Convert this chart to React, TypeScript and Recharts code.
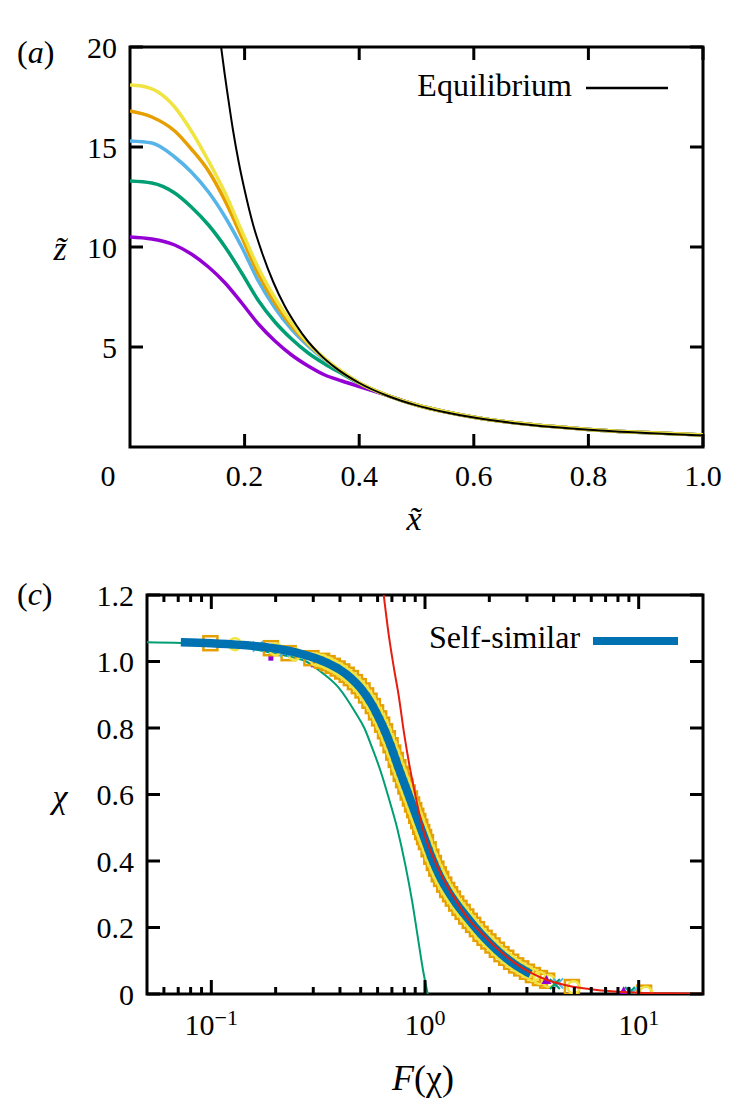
import { LineChart, ComposedChart, Line, Scatter, XAxis, YAxis, ReferenceArea } from 'recharts';

const SERIF = '"Liberation Serif", "DejaVu Serif", "Times New Roman", serif';

// ---------- panel (a) data ----------
const xTicksA = [0, 0.2, 0.4, 0.6, 0.8, 1.0];
const yTicksA = [5, 10, 15, 20];

const purpleA = [
  { x: 0, z: 10.5 }, { x: 0.038, z: 10.4 }, { x: 0.078, z: 10.1 }, { x: 0.107, z: 9.65 },
  { x: 0.137, z: 9.0 }, { x: 0.166, z: 8.2 }, { x: 0.195, z: 7.2 }, { x: 0.224, z: 6.15 },
  { x: 0.253, z: 5.3 }, { x: 0.282, z: 4.6 }, { x: 0.311, z: 4.05 }, { x: 0.34, z: 3.6 },
  { x: 0.37, z: 3.3 }, { x: 0.4, z: 3.02 }
];
const greenA = [
  { x: 0, z: 13.3 }, { x: 0.038, z: 13.2 }, { x: 0.078, z: 12.7 }, { x: 0.107, z: 12.0 },
  { x: 0.137, z: 11.1 }, { x: 0.166, z: 10.0 }, { x: 0.195, z: 8.7 }, { x: 0.224, z: 7.33 },
  { x: 0.253, z: 6.25 }, { x: 0.282, z: 5.4 }, { x: 0.311, z: 4.7 }, { x: 0.34, z: 4.15 },
  { x: 0.37, z: 3.66 }, { x: 0.4, z: 3.18 }
];
const blueA = [
  { x: 0, z: 15.3 }, { x: 0.038, z: 15.2 }, { x: 0.078, z: 14.5 }, { x: 0.107, z: 13.75 },
  { x: 0.137, z: 12.75 }, { x: 0.166, z: 11.5 }, { x: 0.195, z: 10.0 }, { x: 0.224, z: 8.3 },
  { x: 0.253, z: 6.95 }, { x: 0.282, z: 5.88 }, { x: 0.311, z: 5.05 }, { x: 0.34, z: 4.36 },
  { x: 0.37, z: 3.74 }, { x: 0.4, z: 3.2 }
];
const orangeA = [
  { x: 0, z: 16.8 }, { x: 0.038, z: 16.5 }, { x: 0.078, z: 15.8 }, { x: 0.107, z: 14.9 },
  { x: 0.137, z: 13.8 }, { x: 0.166, z: 12.3 }, { x: 0.195, z: 10.5 }, { x: 0.224, z: 8.65 },
  { x: 0.253, z: 7.2 }, { x: 0.282, z: 6.05 }, { x: 0.311, z: 5.15 }, { x: 0.34, z: 4.4 },
  { x: 0.37, z: 3.75 }, { x: 0.4, z: 3.2 }
];
const yellowA = [
  { x: 0, z: 18.1 }, { x: 0.02, z: 18.05 }, { x: 0.049, z: 17.75 }, { x: 0.078, z: 17.0 },
  { x: 0.107, z: 15.8 }, { x: 0.137, z: 14.3 }, { x: 0.166, z: 12.7 }, { x: 0.195, z: 10.8 },
  { x: 0.224, z: 8.95 }, { x: 0.253, z: 7.45 }, { x: 0.282, z: 6.2 }, { x: 0.311, z: 5.2 },
  { x: 0.34, z: 4.42 }, { x: 0.37, z: 3.76 }, { x: 0.4, z: 3.21 }
];
// all runs collapse onto the same tail
const tailA = [
  { x: 0.45, z: 2.57 }, { x: 0.5, z: 2.1 }, { x: 0.55, z: 1.76 }, { x: 0.6, z: 1.49 },
  { x: 0.7, z: 1.12 }, { x: 0.8, z: 0.88 }, { x: 0.9, z: 0.72 }, { x: 1.0, z: 0.6 }
];
const equilibriumA = [
  { x: 0.159, z: 20 }, { x: 0.165, z: 18.7 }, { x: 0.17, z: 17.7 }, { x: 0.18, z: 15.8 },
  { x: 0.19, z: 14.2 }, { x: 0.2, z: 12.85 }, { x: 0.215, z: 11.1 }, { x: 0.23, z: 9.75 },
  { x: 0.25, z: 8.25 }, { x: 0.27, z: 7.05 }, { x: 0.29, z: 6.1 }, { x: 0.31, z: 5.3 },
  { x: 0.33, z: 4.67 }, { x: 0.36, z: 3.93 }, { x: 0.4, z: 3.2 }, { x: 0.45, z: 2.55 },
  { x: 0.5, z: 2.08 }, { x: 0.55, z: 1.74 }, { x: 0.6, z: 1.47 }, { x: 0.7, z: 1.1 },
  { x: 0.8, z: 0.86 }, { x: 0.9, z: 0.7 }, { x: 1.0, z: 0.58 }
];

// ---------- panel (c) data ----------
const xTicksC = [0.1, 1, 10];
const xMinorC = [0.06, 0.07, 0.08, 0.09, 0.2, 0.3, 0.4, 0.5, 0.6, 0.7, 0.8, 0.9, 2, 3, 4, 5, 6, 7, 8, 9];
const yTicksC = [0, 0.2, 0.4, 0.6, 0.8, 1.0, 1.2];

const equilibriumC = [
  { F: 0.05, chi: 1.058 }, { F: 0.095, chi: 1.052 }, { F: 0.15, chi: 1.04 }, { F: 0.195, chi: 1.025 },
  { F: 0.236, chi: 1.014 }, { F: 0.278, chi: 1.0 }, { F: 0.332, chi: 0.965 }, { F: 0.396, chi: 0.92 },
  { F: 0.474, chi: 0.845 }, { F: 0.52, chi: 0.8 }, { F: 0.566, chi: 0.74 }, { F: 0.62, chi: 0.67 },
  { F: 0.676, chi: 0.59 }, { F: 0.74, chi: 0.5 }, { F: 0.808, chi: 0.39 }, { F: 0.87, chi: 0.28 },
  { F: 0.931, chi: 0.16 }, { F: 0.98, chi: 0.07 }, { F: 1.03, chi: 0 }
];
const asymptoteC = [
  { F: 0.641, chi: 1.2 }, { F: 0.68, chi: 1.07 }, { F: 0.72, chi: 0.97 }, { F: 0.752, chi: 0.9 },
  { F: 0.8, chi: 0.78 }, { F: 0.85, chi: 0.68 }, { F: 0.9, chi: 0.6 }, { F: 0.95, chi: 0.53 },
  { F: 1.0, chi: 0.475 }, { F: 1.07, chi: 0.425 }, { F: 1.2, chi: 0.355 }, { F: 1.4, chi: 0.28 },
  { F: 1.6, chi: 0.225 }, { F: 1.83, chi: 0.185 }, { F: 2.19, chi: 0.135 }, { F: 2.61, chi: 0.095 },
  { F: 3.12, chi: 0.064 }, { F: 3.73, chi: 0.042 }, { F: 4.46, chi: 0.028 }, { F: 5.5, chi: 0.017 },
  { F: 6.37, chi: 0.012 }, { F: 8, chi: 0.007 }, { F: 10, chi: 0.004 }, { F: 14, chi: 0.002 }, { F: 20, chi: 0.001 }
];
const selfSimilarC = [
  { F: 0.072, chi: 1.058 }, { F: 0.1, chi: 1.055 }, { F: 0.136, chi: 1.05 }, { F: 0.195, chi: 1.04 },
  { F: 0.25, chi: 1.027 }, { F: 0.3, chi: 1.012 }, { F: 0.35, chi: 0.995 }, { F: 0.4, chi: 0.975 },
  { F: 0.45, chi: 0.95 }, { F: 0.5, chi: 0.92 }, { F: 0.565, chi: 0.87 }, { F: 0.6, chi: 0.838 },
  { F: 0.64, chi: 0.8 }, { F: 0.69, chi: 0.748 }, { F: 0.752, chi: 0.68 }, { F: 0.82, chi: 0.615 },
  { F: 0.899, chi: 0.545 }, { F: 0.98, chi: 0.48 }, { F: 1.074, chi: 0.41 }, { F: 1.17, chi: 0.355 },
  { F: 1.28, chi: 0.31 }, { F: 1.4, chi: 0.272 }, { F: 1.53, chi: 0.24 }, { F: 1.83, chi: 0.18 },
  { F: 2.19, chi: 0.13 }, { F: 2.61, chi: 0.09 }, { F: 3.12, chi: 0.06 }
];
// simulation snapshots, dense along the collapse
const bandC = [
  { F: 0.33, chi: 1.002 }, { F: 0.35, chi: 0.995 }, { F: 0.37, chi: 0.987 }, { F: 0.39, chi: 0.979 },
  { F: 0.41, chi: 0.97 }, { F: 0.43, chi: 0.96 }, { F: 0.45, chi: 0.95 }, { F: 0.47, chi: 0.938 },
  { F: 0.49, chi: 0.926 }, { F: 0.51, chi: 0.913 }, { F: 0.53, chi: 0.898 }, { F: 0.55, chi: 0.882 },
  { F: 0.57, chi: 0.866 }, { F: 0.59, chi: 0.847 }, { F: 0.61, chi: 0.829 }, { F: 0.63, chi: 0.81 },
  { F: 0.65, chi: 0.79 }, { F: 0.67, chi: 0.769 }, { F: 0.69, chi: 0.748 }, { F: 0.71, chi: 0.726 },
  { F: 0.73, chi: 0.704 }, { F: 0.75, chi: 0.682 }, { F: 0.77, chi: 0.662 }, { F: 0.79, chi: 0.643 },
  { F: 0.81, chi: 0.624 }, { F: 0.83, chi: 0.606 }, { F: 0.85, chi: 0.588 }, { F: 0.87, chi: 0.57 },
  { F: 0.89, chi: 0.553 }, { F: 0.91, chi: 0.536 }, { F: 0.93, chi: 0.52 }, { F: 0.95, chi: 0.503 },
  { F: 0.97, chi: 0.487 }, { F: 0.99, chi: 0.472 }, { F: 1.01, chi: 0.457 }, { F: 1.04, chi: 0.435 },
  { F: 1.07, chi: 0.413 }, { F: 1.1, chi: 0.394 }, { F: 1.13, chi: 0.377 }, { F: 1.16, chi: 0.36 },
  { F: 1.19, chi: 0.346 }, { F: 1.23, chi: 0.329 }, { F: 1.27, chi: 0.313 }, { F: 1.31, chi: 0.3 },
  { F: 1.35, chi: 0.287 }, { F: 1.4, chi: 0.272 }, { F: 1.45, chi: 0.259 }, { F: 1.5, chi: 0.247 },
  { F: 1.56, chi: 0.233 }, { F: 1.62, chi: 0.22 }, { F: 1.68, chi: 0.208 }, { F: 1.75, chi: 0.195 },
  { F: 1.82, chi: 0.181 }, { F: 1.9, chi: 0.169 }, { F: 1.98, chi: 0.158 }, { F: 2.07, chi: 0.146 },
  { F: 2.17, chi: 0.133 }, { F: 2.28, chi: 0.12 }, { F: 2.4, chi: 0.109 }, { F: 2.53, chi: 0.097 },
  { F: 2.67, chi: 0.086 }, { F: 2.82, chi: 0.077 }, { F: 3.0, chi: 0.067 }, { F: 3.2, chi: 0.057 },
  { F: 3.45, chi: 0.048 }
];
const squaresC = [
  { F: 0.099, chi: 1.055 }, { F: 0.19, chi: 1.04 }, { F: 0.23, chi: 1.025 }, { F: 0.294, chi: 1.01 },
  ...bandC,
  { F: 3.73, chi: 0.04 }, { F: 4.87, chi: 0.021 }, { F: 10.6, chi: 0.004 }
];
const circlesC = [
  { F: 0.129, chi: 1.052 }, { F: 0.2, chi: 1.037 }, { F: 0.245, chi: 1.022 }, { F: 0.31, chi: 1.006 },
  ...bandC,
  { F: 3.8, chi: 0.039 }, { F: 4.96, chi: 0.02 }, { F: 10.8, chi: 0.004 }
];
const crossBlueC = [{ F: 0.165, chi: 1.045 }, { F: 0.22, chi: 1.03 }, { F: 4.2, chi: 0.032 }, { F: 9.4, chi: 0.006 }];
const crossGreenC = [{ F: 4.05, chi: 0.03 }, { F: 9.1, chi: 0.006 }];
const purpleDotsC = [{ F: 0.19, chi: 1.01 }, { F: 0.3, chi: 0.99 }, { F: 0.36, chi: 0.975 }, { F: 0.42, chi: 0.945 }];
const purpleTriC = [{ F: 3.7, chi: 0.042 }, { F: 8.5, chi: 0.008 }];

// ---------- geometry ----------
const A = { left: 130, right: 703, top: 47, bottom: 447 };
const C = { left: 147, right: 703, top: 35, bottom: 434 };
const tickFont = { fontFamily: SERIF, fontSize: 30, fill: '#000' };

const AXTick = ({ x, payload }: any) => {
  const v = payload.value;
  return (
    <g>
      {v !== 0 && <line x1={x} x2={x} y1={A.bottom} y2={A.bottom - 13} stroke="#000" strokeWidth={3} />}
      {v !== 0 && <line x1={x} x2={x} y1={A.top} y2={A.top + 13} stroke="#000" strokeWidth={3} />}
      <text x={v === 0 ? x - 22 : x} y={A.bottom + 28} textAnchor="middle" dominantBaseline="central" {...tickFont}>
        {v === 0 ? '0' : v.toFixed(1)}
      </text>
    </g>
  );
};

const AYTick = ({ y, payload }: any) => (
  <g>
    <line x1={A.left} x2={A.left + 13} y1={y} y2={y} stroke="#000" strokeWidth={3} />
    <line x1={A.right} x2={A.right - 13} y1={y} y2={y} stroke="#000" strokeWidth={3} />
    <text x={A.left - 13} y={y} textAnchor="end" dominantBaseline="central" {...tickFont}>{payload.value}</text>
  </g>
);

const CXTick = ({ x, payload }: any) => {
  const exp = Math.round(Math.log10(payload.value));
  return (
    <g>
      <line x1={x} x2={x} y1={C.bottom} y2={C.bottom - 14} stroke="#000" strokeWidth={3} />
      <line x1={x} x2={x} y1={C.top} y2={C.top + 14} stroke="#000" strokeWidth={3} />
      <text x={x} y={C.bottom + 41} textAnchor="middle" {...tickFont}>
        10<tspan dy={-10} fontSize={22}>{exp < 0 ? '\u2212' + -exp : String(exp)}</tspan>
      </text>
    </g>
  );
};

const CMinorTick = ({ x }: any) => (
  <g>
    <line x1={x} x2={x} y1={C.bottom} y2={C.bottom - 7} stroke="#000" strokeWidth={3} />
    <line x1={x} x2={x} y1={C.top} y2={C.top + 7} stroke="#000" strokeWidth={3} />
  </g>
);

const CYTick = ({ y, payload }: any) => {
  const v = payload.value;
  return (
    <g>
      <line x1={C.left} x2={C.left + 13} y1={y} y2={y} stroke="#000" strokeWidth={3} />
      <line x1={C.right} x2={C.right - 13} y1={y} y2={y} stroke="#000" strokeWidth={3} />
      <text x={C.left - 13} y={y} textAnchor="end" dominantBaseline="central" {...tickFont}>
        {v === 0 ? '0' : v.toFixed(1)}
      </text>
    </g>
  );
};

const SquareMark = ({ cx, cy }: any) => (
  <rect x={cx - 7} y={cy - 7} width={14} height={14} fill="none" stroke="#e69f00" strokeWidth={2.5} />
);
const CircleMark = ({ cx, cy }: any) => (
  <circle cx={cx} cy={cy} r={6} fill="none" stroke="#f0e442" strokeWidth={2.5} />
);
const crossMark = (color: string) => ({ cx, cy }: any) => (
  <path d={`M${cx - 5},${cy - 5}L${cx + 5},${cy + 5}M${cx - 5},${cy + 5}L${cx + 5},${cy - 5}`} stroke={color} strokeWidth={2} />
);
const PurpleDot = ({ cx, cy }: any) => (
  <rect x={cx - 2.5} y={cy - 2.5} width={5} height={5} fill="#9400d3" />
);
const PurpleTri = ({ cx, cy }: any) => (
  <path d={`M${cx - 5},${cy + 4}L${cx + 5},${cy + 4}L${cx},${cy - 5}Z`} fill="#9400d3" />
);

const PanelA = () => (
  <LineChart width={738} height={560} margin={{ top: 47, right: 35, bottom: 112, left: 129 }}>
    <XAxis type="number" dataKey="x" domain={[0, 1]} ticks={xTicksA} interval={0} height={1}
      axisLine={false} tickLine={false} tick={(p: any) => <AXTick {...p} />} allowDataOverflow />
    <YAxis type="number" domain={[0, 20]} ticks={yTicksA} interval={0} width={1}
      axisLine={false} tickLine={false} tick={(p: any) => <AYTick {...p} />} allowDataOverflow />
    <ReferenceArea x1={0} x2={1} y1={0} y2={20} fill="none" stroke="#000" strokeWidth={3} fillOpacity={0} ifOverflow="visible" />
    <Line data={[...purpleA, ...tailA]} dataKey="z" type="monotone" stroke="#9400d3" strokeWidth={3.5} dot={false} isAnimationActive={false} />
    <Line data={[...greenA, ...tailA]} dataKey="z" type="monotone" stroke="#009e73" strokeWidth={3.5} dot={false} isAnimationActive={false} />
    <Line data={[...blueA, ...tailA]} dataKey="z" type="monotone" stroke="#56b4e9" strokeWidth={3.5} dot={false} isAnimationActive={false} />
    <Line data={[...orangeA, ...tailA]} dataKey="z" type="monotone" stroke="#e69f00" strokeWidth={3.5} dot={false} isAnimationActive={false} />
    <Line data={[...yellowA, ...tailA]} dataKey="z" type="monotone" stroke="#f0e442" strokeWidth={3.5} dot={false} isAnimationActive={false} />
    <Line data={equilibriumA} dataKey="z" type="monotone" stroke="#000" strokeWidth={2} dot={false} isAnimationActive={false} />
  </LineChart>
);

const PanelC = () => (
  <ComposedChart width={738} height={556} margin={{ top: 34, right: 35, bottom: 121, left: 146 }}>
    <XAxis type="number" dataKey="F" scale="log" domain={[0.05, 20]} ticks={xTicksC} interval={0} height={1}
      axisLine={false} tickLine={false} tick={(p: any) => <CXTick {...p} />} allowDataOverflow />
    <XAxis xAxisId="minor" orientation="top" type="number" dataKey="F" scale="log" domain={[0.05, 20]} ticks={xMinorC}
      interval={0} height={1} axisLine={false} tickLine={false} tick={(p: any) => <CMinorTick {...p} />} allowDataOverflow />
    <YAxis type="number" domain={[0, 1.2]} ticks={yTicksC} interval={0} width={1}
      axisLine={false} tickLine={false} tick={(p: any) => <CYTick {...p} />} allowDataOverflow />
    <ReferenceArea x1={0.05} x2={20} y1={0} y2={1.2} fill="none" stroke="#000" strokeWidth={3} fillOpacity={0} ifOverflow="visible" />
    <Line data={equilibriumC} dataKey="chi" type="monotone" stroke="#009e73" strokeWidth={2} dot={false} isAnimationActive={false} />
    <Scatter data={purpleDotsC} dataKey="chi" shape={(p: any) => <PurpleDot {...p} />} isAnimationActive={false} />
    <Scatter data={squaresC} dataKey="chi" shape={(p: any) => <SquareMark {...p} />} isAnimationActive={false} />
    <Scatter data={circlesC} dataKey="chi" shape={(p: any) => <CircleMark {...p} />} isAnimationActive={false} />
    <Scatter data={crossBlueC} dataKey="chi" shape={crossMark('#56b4e9')} isAnimationActive={false} />
    <Scatter data={crossGreenC} dataKey="chi" shape={crossMark('#009e73')} isAnimationActive={false} />
    <Scatter data={purpleTriC} dataKey="chi" shape={(p: any) => <PurpleTri {...p} />} isAnimationActive={false} />
    <Line data={selfSimilarC} dataKey="chi" type="monotone" stroke="#0072b2" strokeWidth={8.5} dot={false} isAnimationActive={false} zIndex={700} />
    <Line data={asymptoteC} dataKey="chi" type="monotone" stroke="#e51e10" strokeWidth={2} dot={false} isAnimationActive={false} zIndex={710} />
  </ComposedChart>
);

export default function App() {
  return (
    <div style={{ position: 'absolute', left: 0, top: 0, width: 738, height: 1116, background: '#fff' }}>
      <div style={{ position: 'absolute', left: 0, top: 0 }}><PanelA /></div>
      <div style={{ position: 'absolute', left: 0, top: 560 }}><PanelC /></div>
      <svg width={738} height={1116} style={{ position: 'absolute', left: 0, top: 0, pointerEvents: 'none' }}
        fontFamily={SERIF} fill="#000">
        {/* panel (a) labels */}
        <text x={17} y={63} fontSize={32}>(<tspan fontStyle="italic">a</tspan>)</text>
        <text x={60} y={260} fontSize={34} fontStyle="italic" textAnchor="middle">{'z\u0303'}</text>
        <text x={414} y={530} fontSize={34} fontStyle="italic" textAnchor="middle">{'x\u0303'}</text>
        <text x={572} y={96} fontSize={32} textAnchor="end">Equilibrium</text>
        <line x1={586} x2={668} y1={88} y2={88} stroke="#000" strokeWidth={2.5} />
        {/* panel (c) labels */}
        <text x={17} y={605} fontSize={32}>(<tspan fontStyle="italic">c</tspan>)</text>
        <text x={60} y={808} fontSize={34} fontStyle="italic" textAnchor="middle">χ</text>
        <text x={423} y={1090} fontSize={36} textAnchor="middle"><tspan fontStyle="italic">F</tspan>(χ)</text>
        <text x={429} y={648} fontSize={32}>Self-similar</text>
        <line x1={593} x2={678} y1={641} y2={641} stroke="#0072b2" strokeWidth={8} />
      </svg>
    </div>
  );
}
